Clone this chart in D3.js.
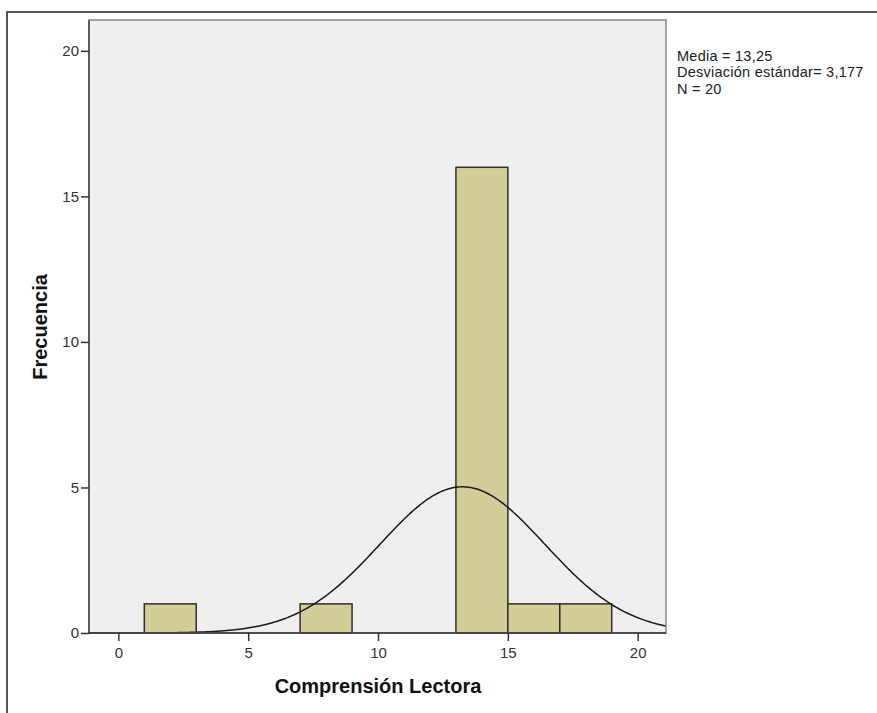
<!DOCTYPE html>
<html><head><meta charset="utf-8">
<script src="https://cdn.jsdelivr.net/npm/d3@7"></script>
<style>body{margin:0;background:#fff}svg{display:block}</style>
</head><body>
<script>
const binStarts = [1, 7, 13, 15, 17];
const binWidth = 2;
const frequencies = [1, 1, 16, 1, 1];
const yTicks = [0, 5, 10, 15, 20];
const xTicks = [0, 5, 10, 15, 20];
const statsLabels = ["Media = 13,25", "Desviación estándar= 3,177", "N = 20"];
const mean = 13.25, sd = 3.177, n = 20;

const W = 877, H = 713;
const FONT = "'Liberation Sans', Arial, sans-serif";
const svg = d3.select("body").append("svg").attr("width", W).attr("height", H);
const pL = 89, pR = 666, pT = 20, pB = 633;

// outer frame
svg.append("path").attr("d", `M7,${H+5} L7,12 L${W+5},12`).attr("fill","none").attr("stroke","#555").attr("stroke-width",2);

const x = d3.scaleLinear().domain([-1.13, 21.09]).range([pL, pR]);
const y = d3.scaleLinear().domain([0, 21.06]).range([pB, pT]);

svg.append("rect").attr("x", pL).attr("y", pT).attr("width", pR-pL).attr("height", pB-pT)
  .attr("fill", "#efefef");

// bars
svg.selectAll("rect.bar").data(binStarts).enter().append("rect").attr("class","bar")
  .attr("x", d => x(d)).attr("width", d => x(d+binWidth)-x(d))
  .attr("y", (d,i) => y(frequencies[i])).attr("height", (d,i) => y(0)-y(frequencies[i]))
  .attr("fill", "#d3ce97").attr("stroke", "#2f2f2f").attr("stroke-width", 1.5);

// normal curve (fitted from the stated mean, sd and N)
const curvePts = d3.range(0, 401).map(i => {
  const xv = x.domain()[0] + (x.domain()[1]-x.domain()[0]) * i/400;
  const z = (xv-mean)/sd;
  return [xv, n*binWidth*Math.exp(-0.5*z*z)/(sd*Math.sqrt(2*Math.PI))];
});
svg.append("path").datum(curvePts)
  .attr("d", d3.line().x(d => x(d[0])).y(d => y(d[1])))
  .attr("fill","none").attr("stroke","#1a1a1a").attr("stroke-width",1.5);

// plot border
svg.append("rect").attr("x", pL).attr("y", pT).attr("width", pR-pL).attr("height", pB-pT)
  .attr("fill", "none").attr("stroke", "#888").attr("stroke-width", 1.5);
svg.append("line").attr("x1",pL).attr("x2",pL).attr("y1",pT).attr("y2",pB).attr("stroke","#444").attr("stroke-width",1.5);
svg.append("line").attr("x1",pL).attr("x2",pR).attr("y1",pB).attr("y2",pB).attr("stroke","#333").attr("stroke-width",1.5);

// axes
const yAxis = svg.append("g").attr("transform", `translate(${pL},0)`)
  .call(d3.axisLeft(y).tickValues(yTicks).tickSize(8).tickPadding(2).tickFormat(d3.format("d")));
const xAxis = svg.append("g").attr("transform", `translate(0,${pB})`)
  .call(d3.axisBottom(x).tickValues(xTicks).tickSize(8).tickPadding(6).tickFormat(d3.format("d")));
[yAxis, xAxis].forEach(g => {
  g.select(".domain").remove();
  g.selectAll(".tick line").attr("stroke","#333").attr("stroke-width",1.5);
  g.selectAll(".tick text").attr("fill","#333").style("font-family",FONT).style("font-size","15px");
});

// titles
svg.append("text").attr("x", 378).attr("y", 693).attr("text-anchor","middle")
  .style("font-family",FONT).style("font-size","20px").style("font-weight","bold")
  .attr("fill","#111").text("Comprensión Lectora");
svg.append("text").attr("transform","translate(47,327) rotate(-90)").attr("text-anchor","middle")
  .style("font-family",FONT).style("font-size","20px").style("font-weight","bold")
  .attr("fill","#111").text("Frecuencia");

// stats
svg.selectAll("text.stat").data(statsLabels).enter().append("text").attr("class","stat")
  .attr("x", 677).attr("y", (d,i) => 61 + i*16.3)
  .style("font-family",FONT).style("font-size","14.5px").style("letter-spacing","0.25px")
  .attr("fill","#222").text(d => d);
</script>
</body></html>
